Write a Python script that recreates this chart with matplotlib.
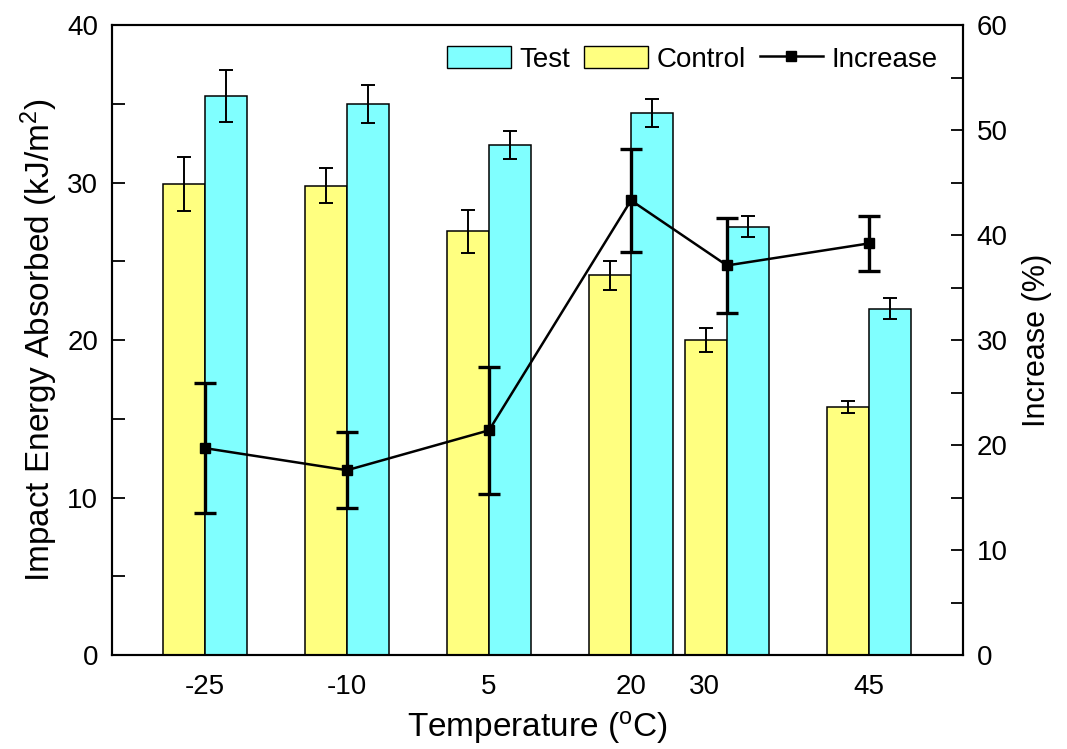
import numpy as np
import matplotlib
matplotlib.use("Agg")
import matplotlib.pyplot as plt
from matplotlib.patches import Patch
from matplotlib.lines import Line2D
from matplotlib.ticker import MultipleLocator

plt.rcParams["font.family"] = ["Liberation Sans", "DejaVu Sans"]
plt.rcParams["mathtext.default"] = "regular"

# data
temperatures = ["-25", "-10", "5", "20", "30", "45"]
control = [29.9, 29.8, 26.9, 24.1, 20.0, 15.75]
control_err = [1.7, 1.1, 1.35, 0.9, 0.75, 0.4]
test = [35.5, 35.0, 32.4, 34.4, 27.2, 22.0]
test_err = [1.65, 1.2, 0.9, 0.9, 0.65, 0.65]
increase = [19.7, 17.6, 21.4, 43.3, 37.1, 39.2]
increase_err = [6.2, 3.6, 6.05, 4.9, 4.5, 2.6]

# group centres (30 and 45 groups sit closer together in the original)
group_pos = np.array([0.0, 1.0, 2.0, 3.0, 3.676, 4.676])
label_pos = np.array([0.0, 1.0, 2.0, 3.0, 3.52, 4.676])
width = 0.296

yellow = "#FFFF80"
cyan = "#80FFFF"


def main():
    fig = plt.figure(figsize=(10.67, 7.49), dpi=100)
    ax = fig.add_axes([0.105, 0.1255, 0.7975, 0.8411])

    err_kw = dict(ecolor="black", elinewidth=1.4, capsize=5, capthick=1.4)
    ax.bar(group_pos - width / 2, control, width, color=yellow,
           edgecolor="black", linewidth=1.1, yerr=control_err,
           error_kw=err_kw, zorder=2)
    ax.bar(group_pos + width / 2, test, width, color=cyan,
           edgecolor="black", linewidth=1.1, yerr=test_err,
           error_kw=err_kw, zorder=2)

    ax.set_xlim(-0.655, 5.338)
    ax.set_ylim(0, 40)
    ax.set_xticks(label_pos)
    ax.set_xticklabels(temperatures)
    ax.tick_params(axis="x", length=0, pad=14, labelsize=20)
    ax.yaxis.set_major_locator(MultipleLocator(10))
    ax.yaxis.set_minor_locator(MultipleLocator(5))
    ax.tick_params(axis="y", which="both", direction="in", length=9,
                   width=1.3, labelsize=20, pad=10)
    for s in ax.spines.values():
        s.set_linewidth(1.5)

    ax.set_xlabel("Temperature ($^o$C)", fontsize=24, labelpad=6)
    ax.set_ylabel("Impact Energy Absorbed (kJ/m$^2$)", fontsize=24,
                  labelpad=5)

    ax2 = ax.twinx()
    ax2.errorbar(group_pos, increase, yerr=increase_err, color="black",
                 lw=1.8, marker="s", markersize=7.5, elinewidth=2.4,
                 capsize=8, capthick=2.4, zorder=5)
    ax2.set_ylim(0, 60)
    ax2.yaxis.set_major_locator(MultipleLocator(10))
    ax2.yaxis.set_minor_locator(MultipleLocator(5))
    ax2.tick_params(axis="y", which="both", direction="in", length=9,
                    width=1.3, labelsize=20, pad=10)
    ax2.set_ylabel("Increase (%)", fontsize=22, labelpad=10)
    for s in ax2.spines.values():
        s.set_linewidth(1.5)

    handles = [
        Patch(facecolor=cyan, edgecolor="black", label="Test"),
        Patch(facecolor=yellow, edgecolor="black", label="Control"),
        Line2D([0], [0], color="black", lw=1.8, marker="s", markersize=7,
               label="Increase"),
    ]
    ax2.legend(handles=handles, ncol=3, loc="upper right", frameon=False,
               fontsize=20, handlelength=2.3, handleheight=0.85,
               handletextpad=0.3, columnspacing=0.5, borderaxespad=0.35,
               bbox_to_anchor=(0.995, 1.0))

    fig.savefig("out.png", dpi=100)


if __name__ == "__main__":
    main()
